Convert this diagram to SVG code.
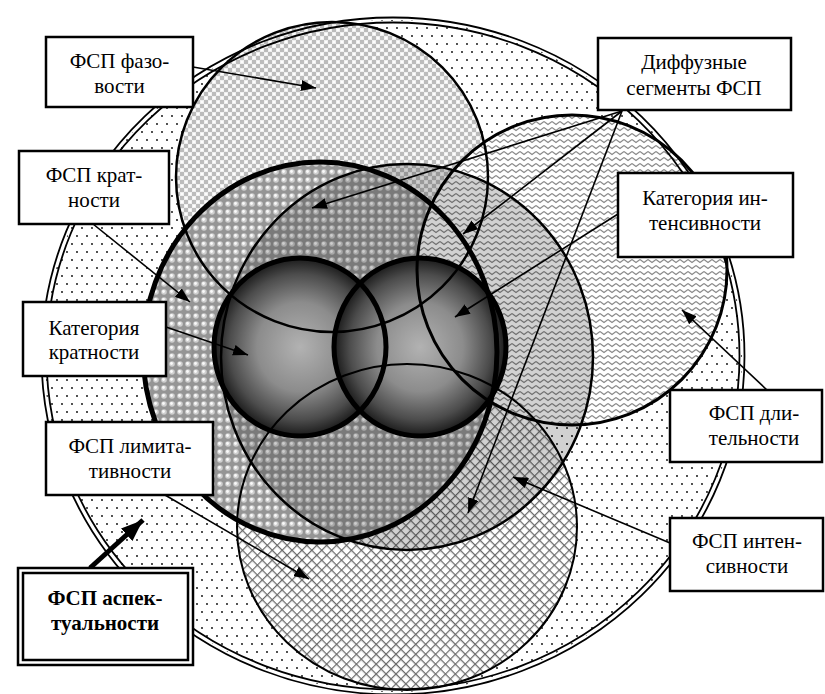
<svg xmlns="http://www.w3.org/2000/svg" width="825" height="694" viewBox="0 0 825 694">
<style>
.box{fill:#fff;stroke:#000;stroke-width:2.5}
.t{font-family:"Liberation Serif","Times New Roman","DejaVu Serif",serif;font-size:21px;fill:#000;text-anchor:middle}
.b{font-weight:bold}
.ol{fill:none;stroke:#000}
.arr{stroke:#000;stroke-width:1.6;fill:none;marker-end:url(#ah)}
.arrb{stroke:#000;stroke-width:5;fill:none;marker-end:url(#ahb)}
</style>
<defs>
<pattern id="dots" width="10" height="16" patternUnits="userSpaceOnUse">
<rect width="10" height="16" fill="#fff"/>
<circle cx="2" cy="4" r="0.9" fill="#000"/>
<circle cx="7" cy="12" r="0.9" fill="#000"/>
</pattern>
<pattern id="chk" width="8" height="8" patternUnits="userSpaceOnUse">
<rect width="8" height="8" fill="#efefef"/>
<rect width="4" height="4" fill="#bcbcbc"/>
<rect x="4" y="4" width="4" height="4" fill="#bcbcbc"/>
<ellipse cx="6" cy="2" rx="1.5" ry="1" fill="#fff"/>
<ellipse cx="2" cy="6" rx="1.5" ry="1" fill="#fff"/>
</pattern>
<pattern id="bub" width="8" height="8" patternUnits="userSpaceOnUse">
<rect width="8" height="8" fill="#959595"/>
<circle cx="4" cy="4" r="2.8" fill="#cfcfcf"/>
<circle cx="3.5" cy="3.5" r="1.4" fill="#fafafa"/>
</pattern>
<pattern id="wav" width="8" height="6" patternUnits="userSpaceOnUse">
<rect width="8" height="6" fill="#fff"/>
<polyline points="0,1.5 4,4.5 8,1.5" fill="none" stroke="#888" stroke-width="1.1"/>
</pattern>
<pattern id="hat" width="7" height="7" patternUnits="userSpaceOnUse" patternTransform="rotate(45)">
<rect width="7" height="7" fill="#fff"/>
<path d="M0,0.6H7M0.6,0V7" stroke="#6a6a6a" stroke-width="1.2" fill="none"/>
</pattern>
<radialGradient id="sph" cx="50%" cy="50%" r="50%">
<stop offset="0" stop-color="#b2b2b2"/>
<stop offset="0.5" stop-color="#8c8c8c"/>
<stop offset="0.82" stop-color="#4c4c4c"/>
<stop offset="1" stop-color="#1a1a1a"/>
</radialGradient>
<marker id="ah" viewBox="0 0 15 11" refX="15" refY="5.5" markerWidth="15" markerHeight="11" markerUnits="userSpaceOnUse" orient="auto"><path d="M0,0 L15,5.5 L0,11 z" fill="#000"/></marker>
<marker id="ahb" viewBox="0 0 22 17" refX="22" refY="8.5" markerWidth="22" markerHeight="17" markerUnits="userSpaceOnUse" orient="auto"><path d="M0,0 L22,8.5 L0,17 z" fill="#000"/></marker>
</defs>

<g id="fills">
<ellipse id="fill-aspect" cx="393" cy="356" rx="349" ry="336" fill="url(#dots)"/>
<ellipse id="fill-phase" cx="332" cy="177" rx="156" ry="155" fill="url(#chk)"/>
<ellipse id="fill-intens" cx="407" cy="527" rx="170" ry="163" fill="url(#hat)"/>
<ellipse id="fill-krat" cx="320" cy="352" rx="177" ry="190" fill="url(#bub)"/>
<ellipse id="fill-dlit" cx="572" cy="270" rx="155" ry="155" fill="url(#wav)"/>
<ellipse id="fill-diff" cx="407" cy="357" rx="186" ry="193" fill="#000" fill-opacity="0.18"/>
</g>

<g id="node-cat-kratnosti-sphere">
<ellipse cx="300" cy="347" rx="86" ry="89" fill="url(#sph)"/>
</g>
<g id="node-cat-intens-sphere">
<ellipse cx="420" cy="347" rx="86" ry="89" fill="url(#sph)"/>
</g>

<g id="outlines">
<g id="node-fsp-aspect">
<ellipse class="ol" cx="393" cy="356" rx="351.5" ry="338.5" stroke-width="1.8"/>
<ellipse class="ol" cx="393" cy="356" rx="346.5" ry="333.5" stroke-width="1.8"/>
</g>
<g id="node-fsp-phase"><ellipse class="ol" cx="332" cy="177" rx="156" ry="155" stroke-width="2.5"/></g>
<g id="node-fsp-dlit"><ellipse class="ol" cx="572" cy="270" rx="155" ry="155" stroke-width="3"/></g>
<g id="node-fsp-intens"><ellipse class="ol" cx="407" cy="527" rx="170" ry="163" stroke-width="2"/></g>
<g id="node-fsp-krat"><ellipse class="ol" cx="320" cy="352" rx="177" ry="190" stroke-width="5"/></g>
<g id="node-diffuse"><ellipse class="ol" cx="407" cy="357" rx="186" ry="193" stroke-width="2.5"/></g>
<ellipse class="ol" cx="300" cy="347" rx="86" ry="89" stroke-width="5"/>
<ellipse class="ol" cx="420" cy="347" rx="86" ry="89" stroke-width="5"/>
</g>

<g id="connectors">
<line class="arr" x1="193" y1="67" x2="316" y2="88"/>
<line class="arr" x1="93" y1="224" x2="190" y2="302"/>
<line class="arr" x1="166" y1="327" x2="248" y2="355"/>
<line class="arr" x1="165" y1="495" x2="309" y2="579"/>
<line class="arrb" x1="90" y1="568" x2="143" y2="520"/>
<line class="arr" x1="622" y1="111" x2="312" y2="208"/>
<line class="arr" x1="622" y1="111" x2="463" y2="234"/>
<line class="arr" x1="622" y1="111" x2="468" y2="513"/>
<line class="arr" x1="618" y1="214" x2="455" y2="317"/>
<line class="arr" x1="767" y1="390" x2="682" y2="310"/>
<line class="arr" x1="670" y1="543" x2="513" y2="477"/>
</g>

<g id="label-phase">
<rect class="box" x="46" y="37" width="147" height="70"/>
<text class="t" x="119.5" y="68">ФСП фазо-</text>
<text class="t" x="119.5" y="93">вости</text>
</g>
<g id="label-krat">
<rect class="box" x="19" y="151" width="150" height="73"/>
<text class="t" x="94" y="182">ФСП крат-</text>
<text class="t" x="94" y="207">ности</text>
</g>
<g id="label-diffuse">
<rect class="box" x="598" y="38" width="193" height="72"/>
<text class="t" x="694" y="69">Диффузные</text>
<text class="t" x="694" y="95">сегменты ФСП</text>
</g>
<g id="label-cat-intens">
<rect class="box" x="618" y="173" width="175" height="84"/>
<text class="t" x="705" y="205">Категория ин-</text>
<text class="t" x="705" y="230">тенсивности</text>
</g>
<g id="label-cat-krat">
<rect class="box" x="23" y="302" width="143" height="74"/>
<text class="t" x="94" y="335">Категория</text>
<text class="t" x="94" y="359">кратности</text>
</g>
<g id="label-limit">
<rect class="box" x="46" y="422" width="167" height="73"/>
<text class="t" x="130" y="453">ФСП лимита-</text>
<text class="t" x="130" y="478">тивности</text>
</g>
<g id="label-aspect">
<rect class="box" x="18" y="568" width="175" height="97"/>
<rect class="box" x="23" y="573" width="165" height="87"/>
<text class="t b" x="105" y="605">ФСП аспек-</text>
<text class="t b" x="105" y="630">туальности</text>
</g>
<g id="label-dlit">
<rect class="box" x="670" y="390" width="152" height="72"/>
<text class="t" x="754" y="420">ФСП дли-</text>
<text class="t" x="754" y="445">тельности</text>
</g>
<g id="label-intens">
<rect class="box" x="670" y="518" width="153" height="73"/>
<text class="t" x="747" y="548">ФСП интен-</text>
<text class="t" x="747" y="573">сивности</text>
</g>
</svg>
